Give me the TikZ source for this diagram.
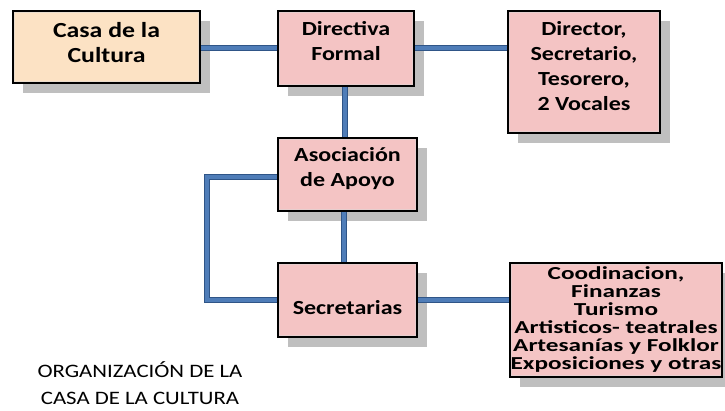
\documentclass[tikz,border=0pt]{standalone}
\usepackage{fontspec}
\setmainfont{Carlito}[FakeStretch=1.2]
\newfontfamily\widefont{Carlito}[FakeStretch=1.38]
\usepackage[svgnames, dvipsnames]{xcolor}
\usetikzlibrary{calc, shadows}
\definecolor{BoxPink}{HTML}{F4C4C4}
\definecolor{BoxPeach}{HTML}{FCE2C4}
\definecolor{LineBlue}{HTML}{4F7DB8}
\definecolor{LineEdge}{HTML}{2F5587}
\tikzset{>=latex}
\begin{document}
\begin{tikzpicture}[x=1pt, y=-1pt,
  box/.style={draw=black, line width=1.6pt, fill=BoxPink, align=center,
    font=\bfseries\fontsize{20}{25}\selectfont, inner sep=0pt,
    drop shadow={shadow xshift=9.5pt, shadow yshift=-10pt, fill=black!25, opacity=1},
    path picture={\draw[line width=4pt, black!15, opacity=.5]
      (path picture bounding box.south west) rectangle (path picture bounding box.north east);}},
  link/.style={draw=LineEdge, line width=6pt, line cap=butt, line join=miter,
    postaction={draw=LineBlue, line width=3.2pt}}]
\useasboundingbox (0,0) rectangle (725,410);
% boxes
\node[box, fill=BoxPeach, minimum width=187pt, minimum height=72pt,
  font=\bfseries\fontsize{21.5}{25}\selectfont] (casa) at (106.5,47) {Casa de la\\Cultura\\[-16pt]};
\node[box, minimum width=136pt, minimum height=75pt] (directiva) at (346,48.5) {Directiva\\Formal\\[-10pt]};
\node[box, minimum width=152pt, minimum height=122pt] (director) at (584,72)
  {Director,\\Secretario,\\Tesorero,\\2 Vocales\\[-13pt]};
\node[box, minimum width=139pt, minimum height=73pt] (asociacion) at (347.5,174.5) {Asociación\\de Apoyo\\[-10pt]};
\node[box, minimum width=139pt, minimum height=74pt] (secretarias) at (347.5,300) {\\[4pt]Secretarias};
\node[box, minimum width=212pt, minimum height=114pt, font=\widefont\bfseries\fontsize{18.3}{18}\selectfont] (areas) at (616,320)
  {Coodinacion,\\Finanzas\\Turismo\\Artisticos- teatrales\\Artesanías y Folklor\\Exposiciones y otras};
% conectores
\draw[link] (casa.east |- 0,48) -- (directiva.west |- 0,48);
\draw[link] (directiva.east |- 0,48) -- (director.west |- 0,48);
\draw[link] (directiva.south -| 345,0) -- (asociacion.north -| 345,0);
\draw[link] (asociacion.south -| 344,0) -- (secretarias.north -| 344,0);
\draw[link] (asociacion.west |- 0,177) -| (207,300) -- (secretarias.west |- 0,300);
\draw[link] (secretarias.east |- 0,300) -- (areas.west |- 0,300);
% titulo
\node[align=center, font=\fontsize{19}{27}\selectfont] (titulo) at (140,383)
  {ORGANIZACIÓN DE LA\\CASA DE LA CULTURA};
\end{tikzpicture}
\end{document}
